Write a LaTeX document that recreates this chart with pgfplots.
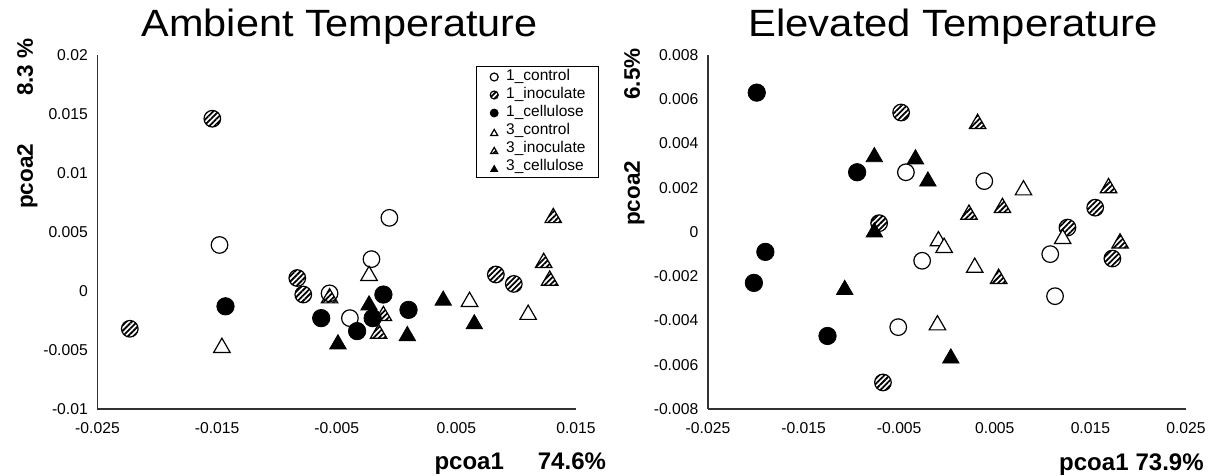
\documentclass[border=0pt]{standalone}
\usepackage{pgfplots}
\pgfplotsset{compat=1.18}
\usepackage{pgfplotstable}
\usetikzlibrary{patterns.meta}
\usepackage{fontspec}
\setmainfont{Liberation Sans}

% ---------- Ambient temperature ----------
\pgfplotstableread{
x y
-0.0148 0.0039
-0.0056 -0.0002
-0.0039 -0.0023
-0.0006 0.0062
-0.0021 0.0027
}\Lctrl
\pgfplotstableread{
x y
-0.0154 0.0146
-0.0223 -0.0032
-0.0083 0.0011
-0.0078 -0.0003
0.0083 0.0014
0.0098 0.0006
}\Linoc
\pgfplotstableread{
x y
-0.0143 -0.0013
-0.0063 -0.0023
-0.0033 -0.0034
-0.0011 -0.0003
-0.0020 -0.0023
0.0010 -0.0016
}\Lcell
\pgfplotstableread{
x y
-0.0146 -0.0046
-0.0023 0.0015
0.0061 -0.0007
0.0110 -0.0018
}\LTctrl
\pgfplotstableread{
x y
-0.0056 -0.0004
-0.0011 -0.0019
-0.0015 -0.0034
0.0131 0.0064
0.0123 0.0026
0.0128 0.0011
}\LTinoc
\pgfplotstableread{
x y
-0.0049 -0.0043
-0.0023 -0.0010
0.0009 -0.0036
0.0039 -0.0006
0.0065 -0.0026
}\LTcell

% ---------- Elevated temperature ----------
\pgfplotstableread{
x y
-0.0043 0.0027
-0.0026 -0.0013
-0.0051 -0.0043
0.0039 0.0023
0.0108 -0.0010
0.0113 -0.0029
}\Rctrl
\pgfplotstableread{
x y
-0.0048 0.0054
-0.0071 0.0004
-0.0067 -0.0068
0.0155 0.0011
0.0126 0.0002
0.0173 -0.0012
}\Rinoc
\pgfplotstableread{
x y
-0.0199 0.0063
-0.0094 0.0027
-0.0190 -0.0009
-0.0202 -0.0023
-0.0125 -0.0047
}\Rcell
\pgfplotstableread{
x y
-0.0009 -0.0003
-0.0003 -0.0006
-0.0010 -0.0041
0.0080 0.0020
0.0029 -0.0015
0.0121 -0.0002
}\RTctrl
\pgfplotstableread{
x y
0.0032 0.0050
0.0058 0.0012
0.0023 0.0009
0.0054 -0.0020
0.0169 0.0021
0.0181 -0.0004
}\RTinoc
\pgfplotstableread{
x y
-0.0076 0.0035
-0.0033 0.0034
-0.0020 0.0024
-0.0076 0.0001
-0.0107 -0.0025
0.0004 -0.0056
}\RTcell

\pgfplotsset{
  ctrlc/.style={only marks, mark=*, mark size=8.3pt,
    mark options={draw=black, fill=white, line width=1.2pt}},
  inocc/.style={only marks, mark=*, mark size=8.3pt,
    mark options={draw=black, line width=1.2pt,
      pattern={Lines[angle=45,distance=3.8pt,line width=1.8pt]}, pattern color=black}},
  cellc/.style={only marks, mark=*, mark size=8.7pt,
    mark options={draw=black, fill=black, line width=0.8pt}},
  ctrlt/.style={only marks, mark=triangle*, mark size=9.5pt,
    mark options={draw=black, fill=white, line width=1.2pt, yshift=-2.4pt}},
  inoct/.style={only marks, mark=triangle*, mark size=9.5pt,
    mark options={draw=black, line width=1.2pt, yshift=-2.4pt,
      pattern={Lines[angle=45,distance=3.8pt,line width=1.8pt]}, pattern color=black}},
  cellt/.style={only marks, mark=triangle*, mark size=9.5pt,
    mark options={draw=black, fill=black, line width=0.8pt, yshift=-2.4pt}},
  pcastyle/.style={
    anchor=south west, scale only axis, height=354pt,
    axis x line=bottom, axis y line=left,
    axis line style={-, black!80, line width=1.2pt},
    major tick length=0pt, scaled ticks=false, clip=false,
    tick label style={font=\fontsize{15.7}{18}\selectfont, inner sep=0pt, black},
    xticklabel shift=13pt, yticklabel shift=9.5pt,
    title style={font=\fontsize{38}{44}\selectfont, anchor=base},
    xlabel style={font=\fontsize{24}{28}\selectfont\bfseries, anchor=base west},
    ylabel style={font=\fontsize{22.5}{26}\selectfont\bfseries, anchor=base},
  },
}

\begin{document}
\begin{tikzpicture}
\useasboundingbox (0pt,0pt) rectangle (1219pt,475pt);

\begin{axis}[pcastyle,
  at={(97.5pt,66pt)}, width=478.5pt,
  xmin=-0.025, xmax=0.015, ymin=-0.01, ymax=0.02,
  xtick={-0.025,-0.015,-0.005,0.005,0.015},
  xticklabels={-0.025,-0.015,-0.005,0.005,0.015},
  ytick={-0.01,-0.005,0,0.005,0.01,0.015,0.02},
  yticklabels={-0.01,-0.005,0,0.005,0.01,0.015,0.02},
  title={\scalebox{1.09}[1]{Ambient Temperature}},
  title style={at={(axis description cs:0.5063,1.034)}},
  xlabel={pcoa1\hspace{34pt}74.6\%},
  xlabel style={at={(axis description cs:0.697,-0.1723)}},
  ylabel={pcoa2\hspace{48pt}8.3 \%},
  ylabel style={at={(axis description cs:-0.1348,0.8065)}},
  legend image code/.code={%
    \path[draw=none,fill=none,pattern=none] (-5pt,-4pt) rectangle (5pt,4pt);
    \draw[#1,only marks,mark size=4pt] plot coordinates {(0pt,0pt)};},
  legend cell align=left,
  legend style={at={(axis description cs:0.7904,0.9689)}, anchor=north west,
    draw=black, line width=1pt, fill=white,
    font=\fontsize{15.5}{18}\selectfont,
    inner xsep=13pt, inner ysep=1.5pt, row sep=0pt,
    /tikz/column 1/.style={column sep=7pt},
    nodes={inner sep=0pt, text height=12pt, text depth=6pt,
      font=\fontsize{15.5}{18}\selectfont}},
]
\addplot[ctrlc] table {\Lctrl};   \addlegendentry{1\_control}
\addplot[inocc] table {\Linoc};   \addlegendentry{1\_inoculate}
\addplot[cellc] table {\Lcell};   \addlegendentry{1\_cellulose}
\addplot[ctrlt] table {\LTctrl};  \addlegendentry{3\_control}
\addplot[inoct] table {\LTinoc};  \addlegendentry{3\_inoculate}
\addplot[cellt] table {\LTcell};  \addlegendentry{3\_cellulose}
\end{axis}

\begin{axis}[pcastyle,
  at={(708pt,66pt)}, width=478pt,
  xmin=-0.025, xmax=0.025, ymin=-0.008, ymax=0.008,
  xtick={-0.025,-0.015,-0.005,0.005,0.015,0.025},
  xticklabels={-0.025,-0.015,-0.005,0.005,0.015,0.025},
  ytick={-0.008,-0.006,-0.004,-0.002,0,0.002,0.004,0.006,0.008},
  yticklabels={-0.008,-0.006,-0.004,-0.002,0,0.002,0.004,0.006,0.008},
  title={\scalebox{1.1}[1]{Elevated Temperature}},
  title style={at={(axis description cs:0.5126,1.034)}},
  xlabel={pcoa1\hspace{7pt}73.9\%},
  xlabel style={at={(axis description cs:0.7274,-0.1723)}},
  ylabel={pcoa2\hspace{61pt}6.5\%},
  ylabel style={at={(axis description cs:-0.1423,0.768)}},
]
\addplot[ctrlc] table {\Rctrl};
\addplot[inocc] table {\Rinoc};
\addplot[cellc] table {\Rcell};
\addplot[ctrlt] table {\RTctrl};
\addplot[inoct] table {\RTinoc};
\addplot[cellt] table {\RTcell};
\end{axis}
\end{tikzpicture}
\end{document}
